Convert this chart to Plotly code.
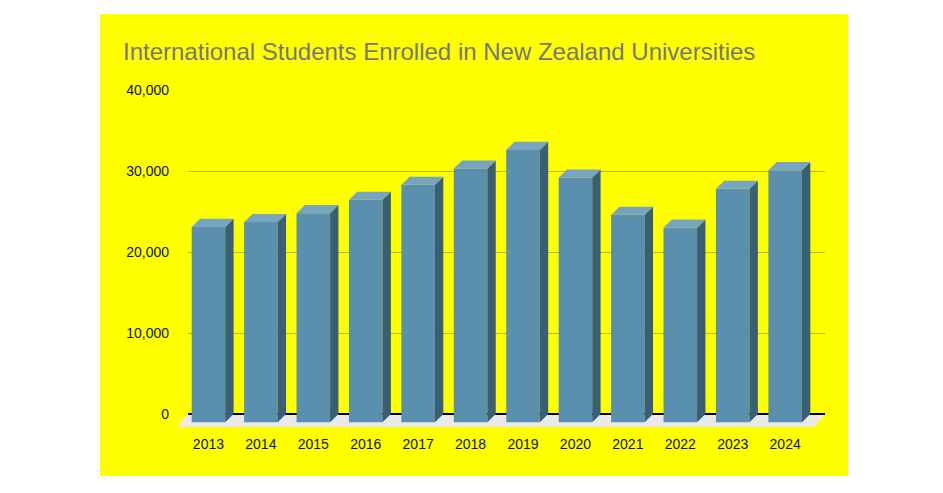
import plotly.graph_objects as go

# ---- data ----
years = ["2013", "2014", "2015", "2016", "2017", "2018",
         "2019", "2020", "2021", "2022", "2023", "2024"]
students = [24100, 24700, 25800, 27450, 29300, 31300,
            33600, 30200, 25600, 24000, 28800, 31100]
y_tickvals = [0, 10000, 20000, 30000, 40000]
y_ticktext = ["0", "10,000", "20,000", "30,000", "40,000"]
title_text = "International Students Enrolled in New Zealand Universities"

# ---- style / geometry ----
W_FIG, H_FIG = 943, 493
FRONT, SIDE, TOP = "#5a8fae", "#3a5f73", "#77a4bf"
GRID = "#b8b800"
DX, DY = 0.16, 1000          # 3-D depth offset (category units, value units)
BW = 0.64                     # bar width
YR = [-1600, 40000]
XR_B = [-0.55, 11.6]
PX_L, PX_R, PX_T, PX_B = 188, 825, 90, 427
px_per = (PX_R - PX_L) / (XR_B[1] - XR_B[0])
A_L, A_R = 160, 850
XR_A = [XR_B[0] + (A_L - PX_L) / px_per, XR_B[0] + (A_R - PX_L) / px_per]
ydom = [1 - PX_B / H_FIG, 1 - PX_T / H_FIG]

xs = list(range(len(years)))
fig = go.Figure()

# front faces
fig.add_trace(go.Bar(
    x=[i - DX for i in xs], y=students, base=-DY, width=BW,
    marker=dict(color=FRONT, line=dict(width=0)),
    xaxis="x2", yaxis="y2", hoverinfo="skip", showlegend=False))

# side and top faces
for i, v in zip(xs, students):
    fl, fr = i - DX - BW / 2, i - DX + BW / 2
    bl, br = i - BW / 2, i + BW / 2
    fig.add_trace(go.Scatter(
        x=[fr, br, br, fr, fr], y=[-DY, 0, v, v - DY, -DY],
        fill="toself", fillcolor=SIDE, mode="lines", line=dict(width=0),
        xaxis="x2", yaxis="y2", hoverinfo="skip", showlegend=False))
    fig.add_trace(go.Scatter(
        x=[fl, fr, br, bl, fl], y=[v - DY, v - DY, v, v, v - DY],
        fill="toself", fillcolor=TOP, mode="lines", line=dict(width=0),
        xaxis="x2", yaxis="y2", hoverinfo="skip", showlegend=False))

FX = 0.21
floor_path = (f"M {XR_B[0]},0 L {XR_B[1]},0 L {XR_B[1]-FX},{YR[0]} "
              f"L {XR_B[0]-FX},{YR[0]} Z")

fig.update_layout(
    width=W_FIG, height=H_FIG,
    margin=dict(l=0, r=0, t=0, b=0),
    paper_bgcolor="white", plot_bgcolor="rgba(0,0,0,0)",
    font=dict(family="Liberation Sans, Arial", size=14, color="#111111"),
    title=dict(text=title_text, xref="container", yref="container",
               x=123 / W_FIG, xanchor="left", y=1 - 52 / H_FIG, yanchor="middle",
               font=dict(family="Liberation Sans, Arial", size=24, color="#777774")),
    shapes=[
        dict(type="rect", xref="paper", yref="paper",
             x0=100 / W_FIG, x1=848 / W_FIG, y0=1 - 476 / H_FIG, y1=1 - 14 / H_FIG,
             fillcolor="#ffff00", line=dict(width=0), layer="below"),
        dict(type="path", xref="x", yref="y", path=floor_path,
             fillcolor="#e9e9e9", line=dict(width=0), layer="below"),
    ],
    xaxis=dict(domain=[A_L / W_FIG, A_R / W_FIG], range=XR_A, visible=False,
               fixedrange=True),
    yaxis=dict(domain=ydom, range=YR, visible=False, fixedrange=True),
    xaxis2=dict(domain=[PX_L / W_FIG, PX_R / W_FIG], range=XR_B, anchor="y2",
                tickmode="array", tickvals=[i - DX for i in xs], ticktext=years,
                showgrid=False, zeroline=False, showline=False, ticks="",
                ticklabelstandoff=7, automargin=False),
    yaxis2=dict(domain=ydom, range=YR, anchor="x2",
                tickmode="array", tickvals=y_tickvals, ticktext=y_ticktext,
                showgrid=True, gridcolor=GRID, gridwidth=1,
                zeroline=True, zerolinecolor="black", zerolinewidth=1.5,
                showline=False, ticks="", ticklabelstandoff=18, automargin=False),
    showlegend=False,
)

fig.write_html("out.html")
